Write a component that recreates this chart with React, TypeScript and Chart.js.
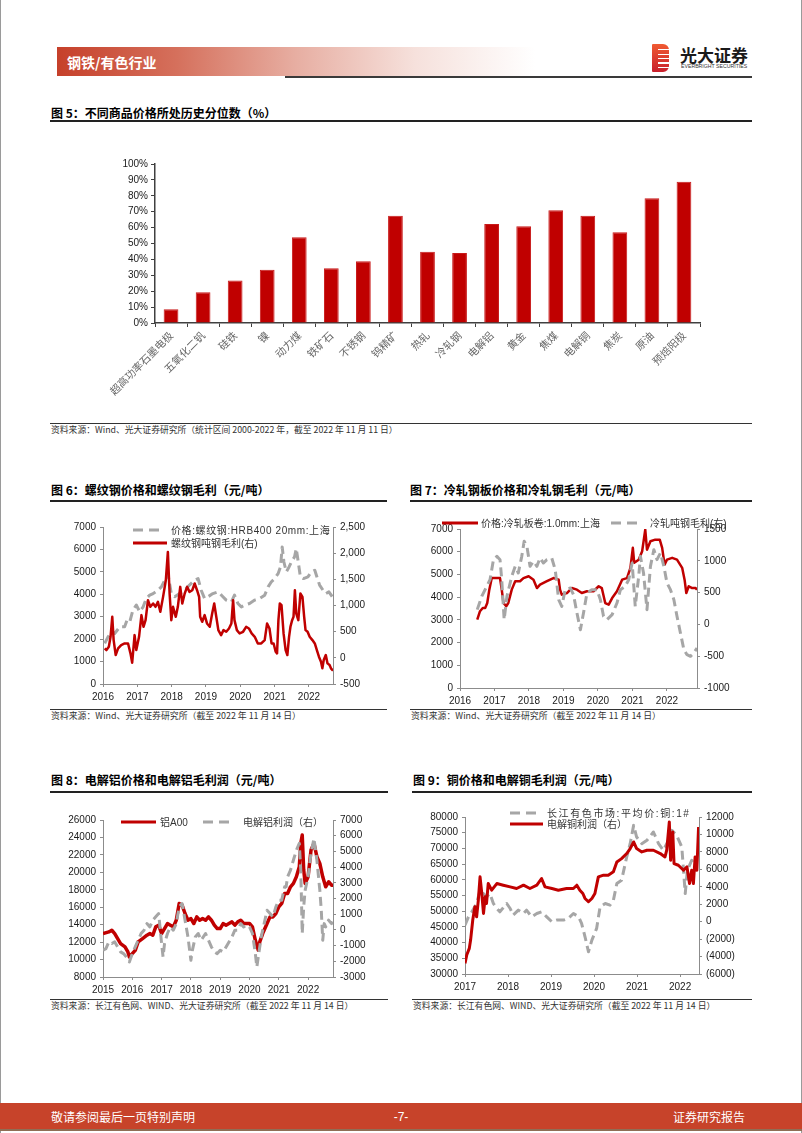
import React, { useEffect, useRef } from "react";
import { Chart, registerables } from "chart.js";

Chart.register(...registerables);

// ---------------- Figure 5 data ----------------
const fig5Categories = [
  "超高功率石墨电极", "五氧化二钒", "硅铁", "镍", "动力煤", "铁矿石", "不锈钢", "钨精矿", "热轧",
  "冷轧钢", "电解铝", "黄金", "焦煤", "电解铜", "焦炭", "原油", "预焙阳极",
];
const fig5Percentiles = [8.6, 19.3, 26.8, 33.5, 54.0, 34.4, 38.8, 67.5, 44.8, 44.0, 62.3, 60.8, 70.9, 67.5, 57.0, 78.4, 88.9];
const fig5YTicks = [0, 10, 20, 30, 40, 50, 60, 70, 80, 90, 100];

// ---------------- Figure 6 data ----------------
const fig6XTicks = [2016, 2017, 2018, 2019, 2020, 2021, 2022];
const fig6LeftTicks = [0, 1000, 2000, 3000, 4000, 5000, 6000, 7000];
const fig6RightTicks = [-500, 0, 500, 1000, 1500, 2000, 2500];
const fig6PriceName = "价格:螺纹钢:HRB400 20mm:上海";
const fig6MarginName = "螺纹钢吨钢毛利(右)";
const fig6PriceYears = [
  2016.05, 2016.15, 2016.24, 2016.34, 2016.49, 2016.63, 2016.70, 2016.78, 2016.87, 2016.97,
  2017.07, 2017.17, 2017.26, 2017.36, 2017.46, 2017.60, 2017.70, 2017.80, 2017.89, 2017.99,
  2018.09, 2018.23, 2018.38, 2018.52, 2018.67, 2018.77, 2018.86, 2018.96, 2019.06, 2019.20,
  2019.35, 2019.45, 2019.59, 2019.74, 2019.83, 2019.93, 2020.03, 2020.13, 2020.27, 2020.42,
  2020.56, 2020.71, 2020.81, 2020.90, 2021.00, 2021.10, 2021.17, 2021.22, 2021.27, 2021.34,
  2021.42, 2021.49, 2021.58, 2021.63, 2021.68, 2021.75, 2021.84, 2021.97, 2022.07, 2022.17,
  2022.23, 2022.31, 2022.41, 2022.49, 2022.58, 2022.68,
];
const fig6Price = [
  1810, 2110, 2330, 2250, 2550, 2550, 2850, 2770, 3290, 3520,
  3220, 3440, 3810, 3960, 4030, 4180, 4330, 4630, 4920, 4030,
  3890, 4030, 4180, 4410, 4630, 4700, 4180, 3810, 3890, 4030,
  4110, 3960, 3740, 3660, 3960, 3590, 3440, 3520, 3590, 3740,
  3810, 3960, 4330, 4550, 4700, 4920, 5220, 6110, 5440, 5000,
  5220, 5440, 5670, 6040, 5520, 4780, 4700, 4780, 5000, 5070,
  4780, 4410, 4180, 4030, 4110, 3890,
];
const fig6MarginYears = [
  2016.05, 2016.10, 2016.17, 2016.22, 2016.27, 2016.31, 2016.37, 2016.44, 2016.53, 2016.63,
  2016.73, 2016.80, 2016.85, 2016.92, 2016.97, 2017.05, 2017.12, 2017.18, 2017.24, 2017.31,
  2017.38, 2017.46, 2017.53, 2017.60, 2017.67, 2017.75, 2017.83, 2017.89, 2017.94, 2017.99,
  2018.04, 2018.12, 2018.18, 2018.25, 2018.31, 2018.38, 2018.45, 2018.52, 2018.60, 2018.67,
  2018.74, 2018.80, 2018.83, 2018.89, 2018.96, 2019.03, 2019.11, 2019.18, 2019.24, 2019.30,
  2019.36, 2019.44, 2019.51, 2019.59, 2019.67, 2019.74, 2019.79, 2019.83, 2019.90, 2019.98,
  2020.08, 2020.17, 2020.25, 2020.33, 2020.42, 2020.51, 2020.61, 2020.71, 2020.78, 2020.85,
  2020.91, 2020.97, 2021.03, 2021.07, 2021.11, 2021.15, 2021.20, 2021.26, 2021.32, 2021.37,
  2021.42, 2021.46, 2021.51, 2021.55, 2021.59, 2021.63, 2021.69, 2021.75, 2021.81, 2021.86,
  2021.90, 2021.96, 2022.02, 2022.10, 2022.17, 2022.23, 2022.29, 2022.35, 2022.39, 2022.43,
  2022.49, 2022.54, 2022.60, 2022.64, 2022.70,
];
const fig6Margin = [
  180, 148, 212, 402, 784, 339, 53, 180, 244, 275,
  275, 85, -93, 434, 148, 402, 816, 593, 720, 1102,
  975, 1038, 975, 1070, 879, 1165, 1483, 2023, 1229, 720,
  975, 784, 975, 1356, 1038, 1229, 1356, 1261, 1292, 1420,
  1292, 1165, 784, 689, 816, 657, 593, 847, 1038, 784,
  530, 434, 530, 498, 561, 657, 1102, 720, 530, 466,
  498, 593, 561, 466, 402, 275, 275, 339, 657, 561,
  275, 275, 117, 85, 720, 1038, 1006, 466, 148, 53,
  402, 593, 720, 784, 1292, 847, 720, 1229, 1165, 784,
  530, 498, 402, 339, 275, 148, 21, -74, -201, -42,
  53, -106, -138, -201, -246,
];

// ---------------- Figure 7 data ----------------
const fig7XTicks = [2016, 2017, 2018, 2019, 2020, 2021, 2022];
const fig7LeftTicks = [0, 1000, 2000, 3000, 4000, 5000, 6000, 7000];
const fig7RightTicks = [-1000, -500, 0, 500, 1000, 1500];
const fig7PriceName = "价格:冷轧板卷:1.0mm:上海";
const fig7MarginName = "冷轧吨钢毛利(右)";
const fig7PriceYears = [
  2016.50, 2016.58, 2016.66, 2016.73, 2016.79, 2016.85, 2016.92, 2017.16, 2017.21, 2017.26,
  2017.34, 2017.40, 2017.50, 2017.60, 2017.74, 2017.84, 2017.99, 2018.13, 2018.23, 2018.32,
  2018.52, 2018.71, 2018.86, 2018.90, 2018.95, 2019.10, 2019.24, 2019.39, 2019.53, 2019.68,
  2019.87, 2020.02, 2020.11, 2020.21, 2020.31, 2020.41, 2020.55, 2020.70, 2020.84, 2020.94,
  2021.01, 2021.05, 2021.18, 2021.28, 2021.37, 2021.42, 2021.52, 2021.66, 2021.79, 2021.86,
  2021.93, 2022.00, 2022.15, 2022.29, 2022.44, 2022.51, 2022.56, 2022.63, 2022.73, 2022.83,
  2022.87,
];
const fig7Price = [
  3010, 3380, 3520, 3520, 3740, 4330, 4840, 4840, 4330, 3740,
  3600, 3740, 4330, 4700, 4700, 4840, 4920, 4770, 4400, 4550,
  4700, 4840, 4770, 4330, 4110, 4180, 4400, 4330, 4180, 4260,
  4260, 4480, 4400, 3740, 3670, 3960, 4260, 4770, 4840, 5290,
  6170, 5510, 5650, 6020, 6970, 6090, 6460, 6530, 6530, 6170,
  5430, 5650, 5730, 5650, 5290, 4770, 4180, 4480, 4400, 4400,
  4330,
];
const fig7MarginYears = [
  2016.50, 2016.63, 2016.87, 2016.97, 2017.07, 2017.16, 2017.21, 2017.28, 2017.36, 2017.50,
  2017.60, 2017.69, 2017.79, 2017.86, 2017.94, 2018.03, 2018.13, 2018.23, 2018.32, 2018.42,
  2018.52, 2018.66, 2018.76, 2018.86, 2018.95, 2019.05, 2019.20, 2019.29, 2019.39, 2019.49,
  2019.58, 2019.68, 2019.82, 2019.97, 2020.07, 2020.16, 2020.26, 2020.41, 2020.55, 2020.65,
  2020.79, 2020.89, 2020.99, 2021.08, 2021.18, 2021.23, 2021.32, 2021.42, 2021.52, 2021.62,
  2021.71, 2021.81, 2021.91, 2022.00, 2022.10, 2022.20, 2022.29, 2022.39, 2022.49, 2022.58,
  2022.68, 2022.78, 2022.87,
];
const fig7Margin = [
  232, 441, 703, 1018, 1070, 1018, 703, 74, 441, 756,
  913, 808, 1070, 1306, 1227, 913, 992, 913, 1044, 965,
  1018, 1044, 861, 389, 284, 546, 572, 467, 179, -83,
  179, 494, 546, 546, 389, 127, 74, 153, 336, 546,
  599, 703, 965, 284, 756, 1070, 808, 232, 913, 1175,
  1018, 1123, 913, 651, 546, 389, 127, -135, -397, -476,
  -502, -450, -371,
];

// ---------------- Figure 8 data ----------------
const fig8XTicks = [2015, 2016, 2017, 2018, 2019, 2020, 2021, 2022];
const fig8LeftTicks = [8000, 10000, 12000, 14000, 16000, 18000, 20000, 22000, 24000, 26000];
const fig8RightTicks = [-3000, -2000, -1000, 0, 1000, 2000, 3000, 4000, 5000, 6000, 7000];
const fig8PriceName = "铝A00";
const fig8ProfitName = "电解铝利润（右）";
const fig8PriceYears = [
  2015.00, 2015.20, 2015.30, 2015.40, 2015.50, 2015.60, 2015.75, 2015.85, 2015.90, 2016.00,
  2016.10, 2016.20, 2016.35, 2016.50, 2016.60, 2016.70, 2016.80, 2016.90, 2017.00, 2017.10,
  2017.20, 2017.30, 2017.40, 2017.50, 2017.60, 2017.70, 2017.80, 2017.90, 2018.00, 2018.10,
  2018.20, 2018.30, 2018.40, 2018.50, 2018.60, 2018.70, 2018.80, 2018.90, 2019.00, 2019.10,
  2019.20, 2019.30, 2019.40, 2019.50, 2019.60, 2019.70, 2019.80, 2019.90, 2020.00, 2020.10,
  2020.20, 2020.30, 2020.35, 2020.45, 2020.60, 2020.70, 2020.80, 2020.90, 2021.00, 2021.10,
  2021.20, 2021.30, 2021.40, 2021.50, 2021.60, 2021.70, 2021.75, 2021.80, 2021.85, 2021.90,
  2022.00, 2022.10, 2022.20, 2022.30, 2022.40, 2022.50, 2022.60, 2022.70, 2022.80, 2022.85,
];
const fig8Price = [
  12980, 13170, 13360, 12980, 12400, 11830, 11450, 10870, 10300, 10680,
  11060, 12020, 12400, 12790, 12980, 12790, 13750, 13940, 12980, 13550,
  14130, 13940, 13750, 14510, 16430, 16240, 15280, 14510, 14700, 14130,
  14890, 14510, 14700, 14510, 14890, 14510, 13940, 13550, 13550, 14130,
  13940, 14130, 14320, 13940, 14320, 14510, 14130, 14130, 14130, 13750,
  12210, 11060, 12020, 12980, 14130, 14890, 14890, 15280, 16040, 16430,
  17580, 17580, 18340, 18730, 19490, 20640, 23320, 24280, 20260, 18730,
  19490, 22560, 23320, 21790, 21020, 19490, 18340, 18920, 18530, 18530,
];
const fig8ProfitYears = [
  2015.00, 2015.10, 2015.20, 2015.30, 2015.40, 2015.50, 2015.60, 2015.70, 2015.80, 2015.90,
  2016.00, 2016.10, 2016.20, 2016.30, 2016.40, 2016.50, 2016.60, 2016.70, 2016.80, 2016.90,
  2017.00, 2017.05, 2017.10, 2017.20, 2017.30, 2017.40, 2017.50, 2017.60, 2017.70, 2017.80,
  2017.90, 2018.00, 2018.05, 2018.15, 2018.25, 2018.35, 2018.50, 2018.60, 2018.70, 2018.80,
  2018.90, 2019.00, 2019.10, 2019.20, 2019.30, 2019.40, 2019.50, 2019.60, 2019.70, 2019.80,
  2019.90, 2020.00, 2020.10, 2020.20, 2020.25, 2020.30, 2020.40, 2020.50, 2020.60, 2020.70,
  2020.80, 2020.90, 2021.00, 2021.10, 2021.20, 2021.25, 2021.30, 2021.40, 2021.50, 2021.60,
  2021.70, 2021.75, 2021.80, 2021.85, 2021.90, 2022.00, 2022.10, 2022.20, 2022.30, 2022.40,
  2022.45, 2022.50, 2022.55, 2022.60, 2022.70, 2022.80, 2022.85,
];
const fig8Profit = [
  -1300, -1190, -765, -870, -765, -1085, -1400, -1510, -1720, -2040,
  -1510, -1085, -660, -230, -20, 400, 190, 620, 830, 1040,
  -870, -1720, -870, -230, 190, -20, 400, 1470, 1680, 620,
  -450, -1935, -1300, -450, -230, -660, -230, -660, -1085, -1400,
  -1510, -1300, -1400, -1085, -765, -450, -20, -20, 400, 190,
  300, 190, -230, -1510, -2360, -1720, -450, 400, 1255, 1040,
  830, 1470, 1895, 1895, 2745, 2745, 3385, 3810, 4450, 5085,
  5510, 3810, -230, 1470, 2530, 3385, 4870, 5830, 4450, 2530,
  1255, -660, 400, 190, 620, 400, 510,
];

// ---------------- Figure 9 data ----------------
const fig9XTicks = [2017, 2018, 2019, 2020, 2021, 2022];
const fig9LeftTicks = [30000, 35000, 40000, 45000, 50000, 55000, 60000, 65000, 70000, 75000, 80000];
const fig9RightTicks = [-6000, -4000, -2000, 0, 2000, 4000, 6000, 8000, 10000, 12000];
const fig9PriceName = "长江有色市场:平均价:铜:1#";
const fig9ProfitName = "电解铜利润（右）";
const fig9PriceYears = [
  2017.00, 2017.08, 2017.16, 2017.27, 2017.35, 2017.50, 2017.58, 2017.66, 2017.74, 2017.81,
  2017.97, 2018.05, 2018.12, 2018.24, 2018.36, 2018.43, 2018.55, 2018.67, 2018.78, 2018.90,
  2019.02, 2019.13, 2019.29, 2019.40, 2019.52, 2019.64, 2019.71, 2019.79, 2019.87, 2019.95,
  2020.06, 2020.14, 2020.26, 2020.37, 2020.45, 2020.53, 2020.64, 2020.76, 2020.84, 2020.92,
  2020.99, 2021.11, 2021.23, 2021.38, 2021.50, 2021.61, 2021.73, 2021.81, 2021.92, 2022.04,
  2022.12, 2022.17, 2022.27, 2022.35,
];
const fig9Price = [
  45570, 48210, 49800, 52450, 56690, 54570, 55630, 52450, 50860, 49800,
  52450, 50860, 48740, 50330, 49270, 50330, 48210, 49270, 49800, 48210,
  46630, 47160, 47160, 47690, 49270, 48210, 46100, 41860, 37100, 40800,
  44510, 51390, 52450, 51920, 53510, 58800, 59860, 67280, 71510, 77340,
  73630, 71510, 72570, 75220, 71510, 69390, 72570, 75750, 74160, 70450,
  55630, 63040, 66220, 64100,
];
const fig9ProfitYears = [
  2017.00, 2017.04, 2017.10, 2017.13, 2017.18, 2017.23, 2017.27, 2017.31, 2017.35, 2017.39,
  2017.43, 2017.47, 2017.50, 2017.54, 2017.62, 2017.74, 2017.89, 2018.05, 2018.20, 2018.36,
  2018.51, 2018.67, 2018.78, 2018.86, 2019.02, 2019.17, 2019.36, 2019.52, 2019.60, 2019.67,
  2019.74, 2019.79, 2019.87, 2019.95, 2020.02, 2020.10, 2020.22, 2020.33, 2020.45, 2020.53,
  2020.64, 2020.76, 2020.84, 2020.92, 2020.99, 2021.11, 2021.23, 2021.38, 2021.54, 2021.65,
  2021.69, 2021.75, 2021.78, 2021.83, 2021.86, 2021.96, 2022.08, 2022.16, 2022.22, 2022.27,
  2022.31, 2022.35, 2022.39, 2022.43,
];
const fig9Profit = [
  -4780, -3830, -3060, -2110, 180, 1700, 560, 2470, 5140, 3230,
  940, 2850, 2090, 4370, 3610, 4370, 4180, 3990, 3800, 4180,
  3800, 4180, 4950, 3990, 3800, 3610, 3800, 3800, 4180, 3610,
  3230, 2660, 2280, 2660, 3230, 5140, 5330, 5330, 5710, 6850,
  7230, 7810, 8380, 9140, 8380, 8000, 8190, 8190, 7810, 7420,
  8190, 11430, 7040, 10290, 6660, 6470, 5900, 6280, 4370, 5900,
  4370, 7420, 5900, 10860,
];

// ---------------- helpers ----------------
const SANS = '"Liberation Sans", Arial, "Noto Sans CJK SC", sans-serif';
const CJK = '"Noto Sans CJK SC", "Liberation Sans", sans-serif';
const RED = "#C00000";
const GRAY = "#A6A6A6";
const AXIS = "#8c8c8c";

type Series = { name: string; xs: number[]; ys: number[]; axis: string; color: string; width: number; dash?: number[]; order: number };
type AxisSpec = { min: number; max: number; ticks: number[]; fmt: (v: number) => string; size: number };

const fmtPlain = (v: number) => String(v);
const fmtComma = (v: number) => v.toLocaleString("en-US");
const fmtParen = (v: number) => (v < 0 ? `(${Math.abs(v)})` : String(v));

function lineConfig(series: Series[], x: AxisSpec, yL: AxisSpec, yR: AxisSpec, padTop: number): any {
  const font = { family: SANS, size: 10 };
  const grid = { display: true, drawOnChartArea: false, drawTicks: true, tickLength: 3, color: AXIS };
  const border = { display: true, color: AXIS, width: 1 };
  const yAxis = (spec: AxisSpec, pos: string) => ({
    type: "linear",
    position: pos,
    min: spec.min,
    max: spec.max,
    afterBuildTicks: (s: any) => {
      s.ticks = spec.ticks.map((v) => ({ value: v }));
    },
    afterFit: (s: any) => {
      s.width = spec.size;
    },
    ticks: { callback: (v: any) => spec.fmt(Number(v)), font, color: "#1a1a1a", padding: 4, autoSkip: false },
    grid,
    border,
  });
  return {
    type: "line",
    data: {
      datasets: series.map((s) => ({
        label: s.name,
        data: s.xs.map((xv, i) => ({ x: xv, y: s.ys[i] })),
        yAxisID: s.axis,
        borderColor: s.color,
        backgroundColor: s.color,
        borderWidth: s.width,
        borderDash: s.dash ?? [],
        borderJoinStyle: "round",
        pointRadius: 0,
        tension: 0,
        fill: false,
        order: s.order,
      })),
    },
    options: {
      animation: false,
      responsive: false,
      maintainAspectRatio: false,
      layout: { padding: { top: padTop, left: 0, right: 0, bottom: 0 } },
      plugins: { legend: { display: false }, tooltip: { enabled: false } },
      scales: {
        x: {
          type: "linear",
          position: "bottom",
          min: x.min,
          max: x.max,
          afterBuildTicks: (s: any) => {
            s.ticks = x.ticks.map((v) => ({ value: v }));
          },
          afterFit: (s: any) => {
            s.height = x.size;
          },
          ticks: { callback: (v: any) => x.fmt(Number(v)), font, color: "#1a1a1a", padding: 4, maxRotation: 0, minRotation: 0, autoSkip: false },
          grid,
          border,
        },
        yL: yAxis(yL, "left"),
        yR: yAxis(yR, "right"),
      },
    },
  };
}

function barConfig(): any {
  const dark = "#404040";
  return {
    type: "bar",
    data: {
      labels: fig5Categories,
      datasets: [
        {
          data: fig5Percentiles,
          backgroundColor: RED,
          borderColor: "#c81a1a",
          borderWidth: 1,
          barPercentage: 0.46,
          categoryPercentage: 1,
        },
      ],
    },
    options: {
      animation: false,
      responsive: false,
      maintainAspectRatio: false,
      layout: { padding: { top: 10, right: 20, left: 0, bottom: 0 } },
      plugins: { legend: { display: false }, tooltip: { enabled: false } },
      scales: {
        x: {
          afterFit: (s: any) => {
            s.height = 87;
          },
          ticks: { font: { family: CJK, size: 10.5 }, color: "#666666", maxRotation: 45, minRotation: 45, autoSkip: false, padding: 2 },
          grid: { display: true, drawOnChartArea: false, drawTicks: true, tickLength: 4, color: dark, offset: true },
          border: { display: true, color: dark, width: 1.5 },
        },
        y: {
          min: 0,
          max: 100,
          afterBuildTicks: (s: any) => {
            s.ticks = fig5YTicks.map((v) => ({ value: v }));
          },
          afterFit: (s: any) => {
            s.width = 60;
          },
          ticks: { callback: (v: any) => `${v}%`, font: { family: SANS, size: 10 }, color: "#1a1a1a", padding: 3 },
          grid: { display: true, drawOnChartArea: false, drawTicks: true, tickLength: 4, color: dark },
          border: { display: true, color: dark, width: 1.5 },
        },
      },
    },
  };
}

function ChartBox(p: { left: number; top: number; width: number; height: number; make: () => any }) {
  const ref = useRef<HTMLCanvasElement>(null);
  useEffect(() => {
    const chart = new Chart(ref.current as HTMLCanvasElement, p.make());
    return () => chart.destroy();
  }, []);
  return (
    <div style={{ position: "absolute", left: p.left, top: p.top, width: p.width, height: p.height }}>
      <canvas ref={ref} width={p.width} height={p.height} style={{ width: p.width, height: p.height, display: "block" }} />
    </div>
  );
}

function Txt(p: { x: number; y: number; size: number; children: React.ReactNode; bold?: boolean; color?: string; align?: string; family?: string; spacing?: number }) {
  const style: React.CSSProperties = {
    position: "absolute",
    top: p.y - p.size * 0.75,
    fontSize: p.size,
    lineHeight: `${p.size * 1.5}px`,
    whiteSpace: "nowrap",
    fontWeight: p.bold ? 700 : 400,
    color: p.color ?? "#000",
    fontFamily: p.family ?? SANS,
    letterSpacing: p.spacing ?? 0,
  };
  if (p.align === "right") style.right = 802 - p.x;
  else if (p.align === "center") {
    style.left = p.x;
    style.transform = "translateX(-50%)";
  } else style.left = p.x;
  return <div style={style}>{p.children}</div>;
}

function Rule(p: { x: number; y: number; w: number; h: number; color?: string }) {
  return <div style={{ position: "absolute", left: p.x, top: p.y, width: p.w, height: p.h, background: p.color ?? "#222" }} />;
}

function Sample(p: { x: number; y: number; w: number; color: string; dash?: string; width?: number }) {
  return (
    <svg style={{ position: "absolute", left: p.x, top: p.y - 3 }} width={p.w} height={6}>
      <line x1={0} y1={3} x2={p.w} y2={3} stroke={p.color} strokeWidth={p.width ?? 3} strokeDasharray={p.dash} />
    </svg>
  );
}

export default function App() {
  const fig6 = () =>
    lineConfig(
      [
        { name: fig6PriceName, xs: fig6PriceYears, ys: fig6Price, axis: "yL", color: GRAY, width: 3, dash: [9, 5], order: 1 },
        { name: fig6MarginName, xs: fig6MarginYears, ys: fig6Margin, axis: "yR", color: RED, width: 2.5, order: 0 },
      ],
      { min: 2016, max: 2022.7, ticks: fig6XTicks, fmt: fmtPlain, size: 21 },
      { min: 0, max: 7000, ticks: fig6LeftTicks, fmt: fmtPlain, size: 53 },
      { min: -500, max: 2500, ticks: fig6RightTicks, fmt: fmtComma, size: 62 },
      10
    );
  const fig7 = () =>
    lineConfig(
      [
        { name: fig7PriceName, xs: fig7PriceYears, ys: fig7Price, axis: "yL", color: RED, width: 2.5, order: 1 },
        { name: fig7MarginName, xs: fig7MarginYears, ys: fig7Margin, axis: "yR", color: GRAY, width: 3, dash: [9, 5], order: 0 },
      ],
      { min: 2016, max: 2022.87, ticks: fig7XTicks, fmt: fmtPlain, size: 21 },
      { min: 0, max: 7000, ticks: fig7LeftTicks, fmt: fmtPlain, size: 55 },
      { min: -1000, max: 1500, ticks: fig7RightTicks, fmt: fmtPlain, size: 63 },
      10
    );
  const fig8 = () =>
    lineConfig(
      [
        { name: fig8PriceName, xs: fig8PriceYears, ys: fig8Price, axis: "yL", color: RED, width: 3.5, order: 1 },
        { name: fig8ProfitName, xs: fig8ProfitYears, ys: fig8Profit, axis: "yR", color: GRAY, width: 3, dash: [9, 5], order: 0 },
      ],
      { min: 2015, max: 2022.85, ticks: fig8XTicks, fmt: fmtPlain, size: 21 },
      { min: 8000, max: 26000, ticks: fig8LeftTicks, fmt: fmtPlain, size: 53 },
      { min: -3000, max: 7000, ticks: fig8RightTicks, fmt: fmtPlain, size: 62 },
      10
    );
  const fig9 = () =>
    lineConfig(
      [
        { name: fig9PriceName, xs: fig9PriceYears, ys: fig9Price, axis: "yL", color: GRAY, width: 3, dash: [9, 5], order: 1 },
        { name: fig9ProfitName, xs: fig9ProfitYears, ys: fig9Profit, axis: "yR", color: RED, width: 3, order: 0 },
      ],
      { min: 2017, max: 2022.44, ticks: fig9XTicks, fmt: fmtPlain, size: 21 },
      { min: 30000, max: 80000, ticks: fig9LeftTicks, fmt: fmtPlain, size: 55 },
      { min: -6000, max: 12000, ticks: fig9RightTicks, fmt: fmtParen, size: 61 },
      10
    );

  return (
    <div style={{ position: "absolute", left: 0, top: 0, width: 802, height: 1133, background: "#fff", overflow: "hidden", fontFamily: SANS }}>
      {/* page border */}
      <Rule x={0} y={0} w={1} h={1133} color="#9a9a9a" />
      <Rule x={801} y={0} w={1} h={1133} color="#9a9a9a" />

      {/* header */}
      <div
        style={{
          position: "absolute",
          left: 57,
          top: 47,
          width: 478,
          height: 29,
          background: "linear-gradient(to right, #c6402a 0%, #d5705c 25%, #e7aea2 50%, #f6e1dc 75%, #ffffff 100%)",
        }}
      />
      <Txt x={67} y={62} size={14} bold color="#ffffff" family={CJK}>钢铁/有色行业</Txt>
      <Rule x={285} y={76} w={467} h={2} color="#3a3a3a" />
      <div
        style={{
          position: "absolute",
          left: 652,
          top: 44,
          width: 17,
          height: 28,
          background: "linear-gradient(to bottom, #f05a32, #c8202c)",
          borderRadius: "1px 6px 6px 1px",
        }}
      />
      <div
        style={{
          position: "absolute",
          left: 658,
          top: 46,
          width: 11,
          height: 24,
          background: "repeating-linear-gradient(to bottom, transparent 0px, transparent 3px, #ffffff 3px, #ffffff 4.5px)",
        }}
      />
      <Txt x={680} y={55} size={17} bold color="#1a1a1a" family={CJK}>光大证券</Txt>
      <Txt x={681} y={67} size={5.2} color="#333" spacing={0}>EVERBRIGHT SECURITIES</Txt>

      {/* Figure 5 */}
      <Txt x={51} y={113} size={12} bold family={CJK}>图 5：不同商品价格所处历史分位数（%）</Txt>
      <Rule x={50} y={120} w={702} h={1.5} />
      <ChartBox left={95} top={154} width={625} height={256} make={barConfig} />
      <Rule x={50} y={423} w={702} h={1} color="#333" />
      <Txt x={51} y={430} size={8.8} color="#333" family={CJK}>资料来源：Wind、光大证券研究所（统计区间 2000-2022 年，截至 2022 年 11 月 11 日）</Txt>

      {/* Figure 6 */}
      <Txt x={51} y={490} size={12} bold family={CJK}>图 6：螺纹钢价格和螺纹钢毛利（元/吨）</Txt>
      <Rule x={50} y={500} w={337} h={1.5} />
      <ChartBox left={50} top={517} width={345} height={188} make={fig6} />
      <Sample x={133} y={530} w={32} color={GRAY} dash="10 6" />
      <Txt x={171} y={530} size={10} color="#333" spacing={0.6}>{fig6PriceName}</Txt>
      <Sample x={133} y={543} w={34} color={RED} />
      <Txt x={171} y={543} size={10} color="#333">{fig6MarginName}</Txt>
      <Rule x={50} y={709} w={337} h={1} color="#333" />
      <Txt x={51} y={716} size={8.9} color="#333" family={CJK}>资料来源：Wind、光大证券研究所（截至 2022 年 11 月 14 日）</Txt>

      {/* Figure 7 */}
      <Txt x={410} y={490} size={12} bold family={CJK}>图 7：冷轧钢板价格和冷轧钢毛利（元/吨）</Txt>
      <Rule x={410} y={500} w={342} h={1.5} />
      <ChartBox left={405} top={519} width={355} height={190} make={fig7} />
      <Sample x={442} y={523} w={36} color={RED} />
      <Txt x={481} y={523} size={10} color="#333">{fig7PriceName}</Txt>
      <Sample x={611} y={523} w={30} color={GRAY} dash="10 6" />
      <Txt x={650} y={523} size={10} color="#333">{fig7MarginName}</Txt>
      <Rule x={410} y={709} w={342} h={1} color="#333" />
      <Txt x={411} y={716} size={8.9} color="#333" family={CJK}>资料来源：Wind、光大证券研究所（截至 2022 年 11 月 14 日）</Txt>

      {/* Figure 8 */}
      <Txt x={51} y={780} size={12} bold family={CJK}>图 8：电解铝价格和电解铝毛利润（元/吨）</Txt>
      <Rule x={50} y={791} w={338} h={1.5} />
      <ChartBox left={50} top={810} width={345} height={188} make={fig8} />
      <Sample x={121} y={822} w={35} color={RED} />
      <Txt x={160} y={822} size={10} color="#333">{fig8PriceName}</Txt>
      <Sample x={203} y={822} w={30} color={GRAY} dash="10 6" />
      <Txt x={243} y={822} size={10} color="#333">{fig8ProfitName}</Txt>
      <Rule x={50} y={999} w={338} h={1} color="#333" />
      <Txt x={51} y={1006} size={8.8} color="#333" family={CJK}>资料来源：长江有色网、WIND、光大证券研究所（截至 2022 年 11 月 14 日）</Txt>

      {/* Figure 9 */}
      <Txt x={413} y={780} size={12} bold family={CJK}>图 9：铜价格和电解铜毛利润（元/吨）</Txt>
      <Rule x={412} y={791} w={340} h={1.5} />
      <ChartBox left={410} top={807} width={350} height={188} make={fig9} />
      <Sample x={510} y={813} w={32} color={GRAY} dash="10 6" />
      <Txt x={547} y={813} size={10} color="#333" spacing={1.6}>{fig9PriceName}</Txt>
      <Sample x={510} y={824} w={33} color={RED} />
      <Txt x={547} y={824} size={10} color="#333">{fig9ProfitName}</Txt>
      <Rule x={412} y={999} w={340} h={1} color="#333" />
      <Txt x={413} y={1006} size={8.8} color="#333" family={CJK}>资料来源：长江有色网、WIND、光大证券研究所（截至 2022 年 11 月 14 日）</Txt>

      {/* footer */}
      <Rule x={0} y={1103} w={802} h={26} color="#c7432a" />
      <Rule x={0} y={1129} w={802} h={2} color="#8f6e55" />
      <Txt x={51} y={1117} size={12} color="#fff" family={CJK}>敬请参阅最后一页特别声明</Txt>
      <Txt x={401} y={1117} size={12} color="#fff" align="center">-7-</Txt>
      <Txt x={745} y={1117} size={12} color="#fff" align="right" family={CJK}>证券研究报告</Txt>
    </div>
  );
}
